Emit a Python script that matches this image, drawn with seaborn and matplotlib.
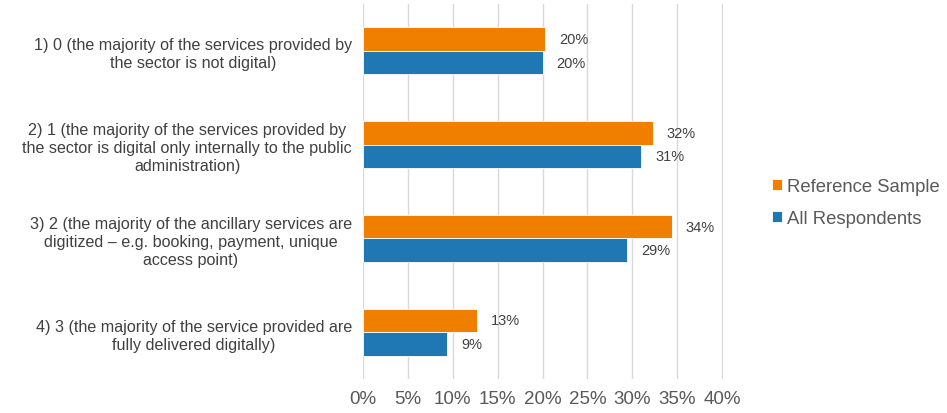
import matplotlib
matplotlib.use("Agg")
import matplotlib.pyplot as plt
import pandas as pd
import seaborn as sns

# data (percent)
categories = [
    "1) 0 (the majority of the services provided by\nthe sector is not digital)",
    "2) 1 (the majority of the services provided by\nthe sector is digital only internally to the public\nadministration)",
    "3) 2 (the majority of the ancillary services are\ndigitized \u2013 e.g. booking, payment, unique\naccess point)",
    "4) 3 (the majority of the service provided are\nfully delivered digitally)",
]
reference_sample = [20.3, 32.3, 34.4, 12.7]
all_respondents = [20.0, 31.0, 29.4, 9.4]
series_names = ["Reference Sample", "All Respondents"]
xticks = [0, 5, 10, 15, 20, 25, 30, 35, 40]

df = pd.DataFrame({
    "category": categories * 2,
    "value": reference_sample + all_respondents,
    "series": [series_names[0]] * 4 + [series_names[1]] * 4,
})

sns.set_style("white")
plt.rcParams["font.family"] = ["Liberation Sans", "DejaVu Sans"]

fig = plt.figure(figsize=(9.47, 4.14), dpi=100)
ax = fig.add_axes([363 / 947, 34 / 414, 360 / 947, 375 / 414])

sns.barplot(data=df, x="value", y="category", hue="series",
            hue_order=series_names, order=categories,
            palette=["#F07F00", "#1F77B4"], saturation=1, width=0.5,
            edgecolor="white", linewidth=0.6, ax=ax)

for cont in ax.containers:
    ax.bar_label(cont, labels=[f"{v:.0f}%" for v in cont.datavalues],
                 padding=10, fontsize=10.5, color="#404040")

ax.set_xlim(0, 40.1)
ax.set_xticks(xticks)
ax.set_xticklabels([f"{t}%" for t in xticks], fontsize=13.5, color="#595959")
ax.tick_params(axis="x", length=0, pad=8)
ax.tick_params(axis="y", length=0, pad=8)
for lbl in ax.get_yticklabels():
    lbl.set_fontsize(11.6)
    lbl.set_color("#404040")
    lbl.set_multialignment("center")
    lbl.set_linespacing(1.25)
ax.xaxis.grid(True, color="#D9D9D9", linewidth=1)
ax.set_axisbelow(True)
for s in ax.spines.values():
    s.set_visible(False)
ax.set_xlabel("")
ax.set_ylabel("")

ax.legend(loc="center left", bbox_to_anchor=(1.09, 0.47), frameon=False,
          fontsize=13.3, handlelength=0.55, handleheight=0.55, handletextpad=0.25,
          labelspacing=0.8, labelcolor="#595959")

fig.savefig("out.png", dpi=100)
